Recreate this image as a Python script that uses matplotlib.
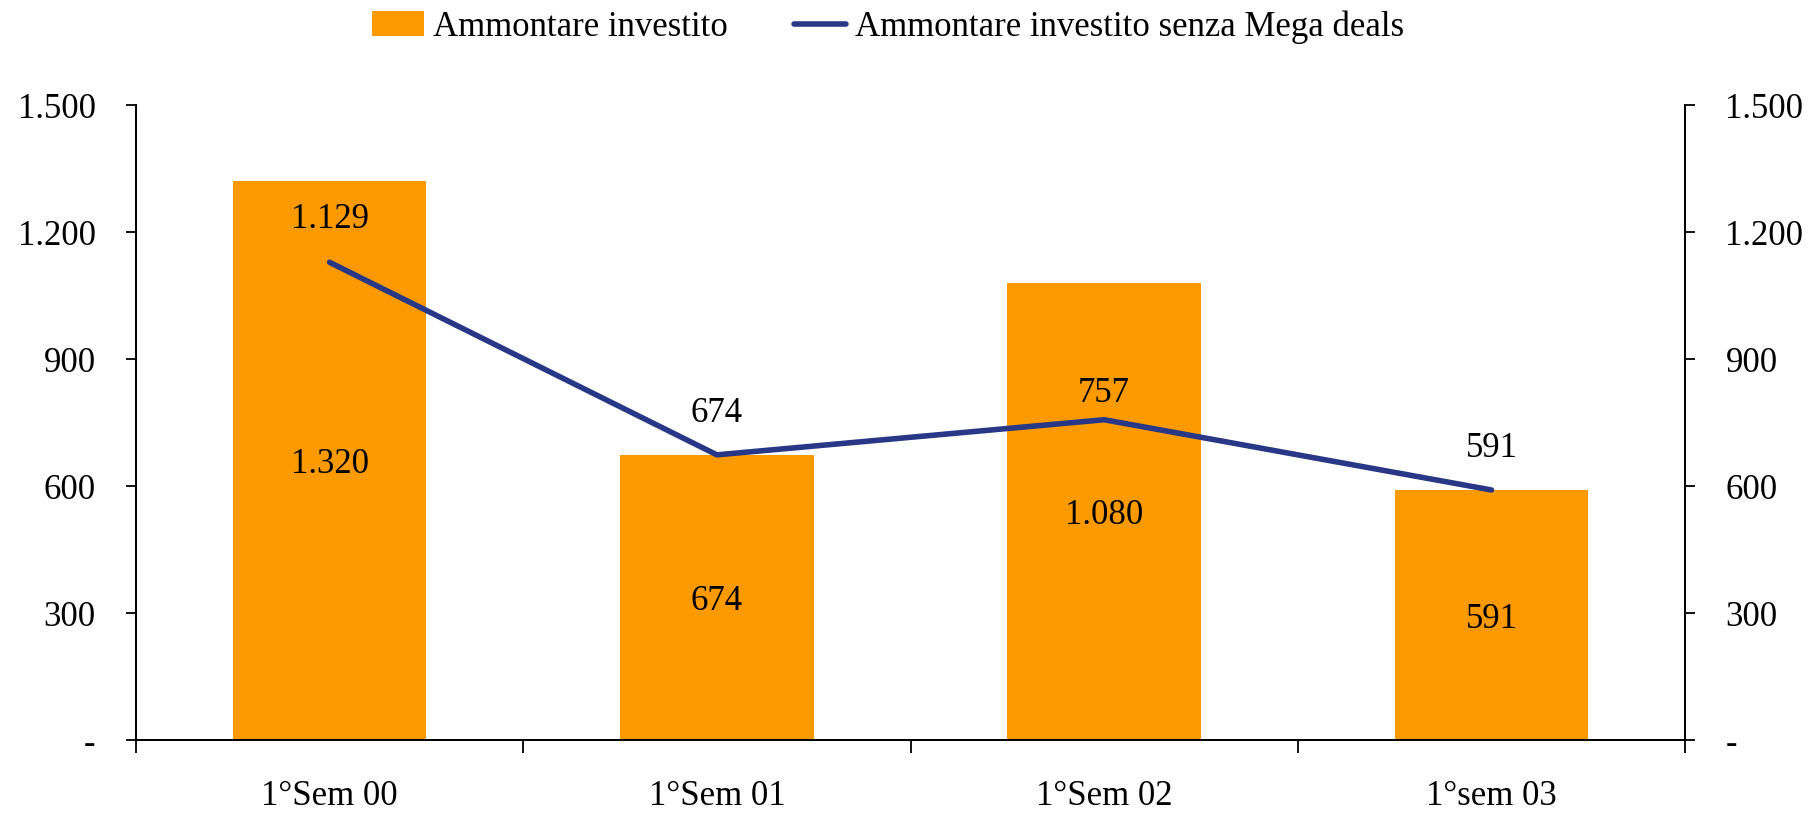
import numpy as np
import matplotlib.pyplot as plt
from matplotlib.ticker import FuncFormatter, FixedLocator

plt.rcParams['font.family'] = ['Liberation Serif', 'DejaVu Serif']

semestri = ['1°Sem 00', '1°Sem 01', '1°Sem 02', '1°sem 03']
investito = [1320, 674, 1080, 591]
senza_mega = [1129, 674, 757, 591]

bar_col = '#FB9A00'
line_col = '#283886'

def fmt_it(v, pos=None):
    # italian style thousands, zero shown as a dash
    if v == 0:
        return '-'
    return '{:,.0f}'.format(v).replace(',', '.')

fig = plt.figure(figsize=(18.12, 8.16), dpi=100)
ax = fig.add_axes([0.075, 0.093, 0.855, 0.778])
x = np.arange(len(semestri))

bars = ax.bar(x, investito, width=0.5, color=bar_col, label='Ammontare investito', zorder=2)
line, = ax.plot(x, senza_mega, color=line_col, lw=4.0, solid_capstyle='round',
                label='Ammontare investito senza Mega deals', zorder=3)

# values inside the bars
for xi, v in zip(x, investito):
    ax.annotate(fmt_it(v), (xi, v / 2), xytext=(0, -3), textcoords='offset points',
                ha='center', va='center', fontsize=25)

# values over the line
offs = [19, 18, 7, 18]
for xi, v, o in zip(x, senza_mega, offs):
    ax.annotate(fmt_it(v), (xi, v), xytext=(0, o), textcoords='offset points',
                ha='center', va='bottom', fontsize=25)

ax.set_xlim(-0.5, len(semestri) - 0.5)
ax.set_ylim(0, 1500)
ax.set_yticks(np.arange(0, 1501, 300))
ax.yaxis.set_major_formatter(FuncFormatter(fmt_it))

ax.set_xticks(x)
ax.set_xticklabels(semestri)
ax.xaxis.set_minor_locator(FixedLocator(np.arange(-0.5, len(semestri), 1.0)))
ax.tick_params(axis='x', which='major', length=0, pad=29, labelsize=25)
ax.tick_params(axis='x', which='minor', length=9, width=1.3, direction='out')
ax.tick_params(axis='y', length=7, width=1.3, direction='out', labelsize=25, pad=22)

ax2 = ax.twinx()
ax2.set_ylim(ax.get_ylim())
ax2.set_yticks(np.arange(0, 1501, 300))
ax2.yaxis.set_major_formatter(FuncFormatter(fmt_it))
ax2.tick_params(axis='y', length=7, width=1.3, direction='out', labelsize=25, pad=22)

for a in (ax, ax2):
    a.spines['top'].set_visible(False)
    for s in ('left', 'right', 'bottom'):
        a.spines[s].set_linewidth(1.3)

fig.legend(handles=[bars, line], loc='center', bbox_to_anchor=(0.49, 0.967), ncol=2,
           frameon=False, fontsize=25, handlelength=1.5, handletextpad=0.25,
           columnspacing=1.9)

fig.savefig('out.png', dpi=100)
